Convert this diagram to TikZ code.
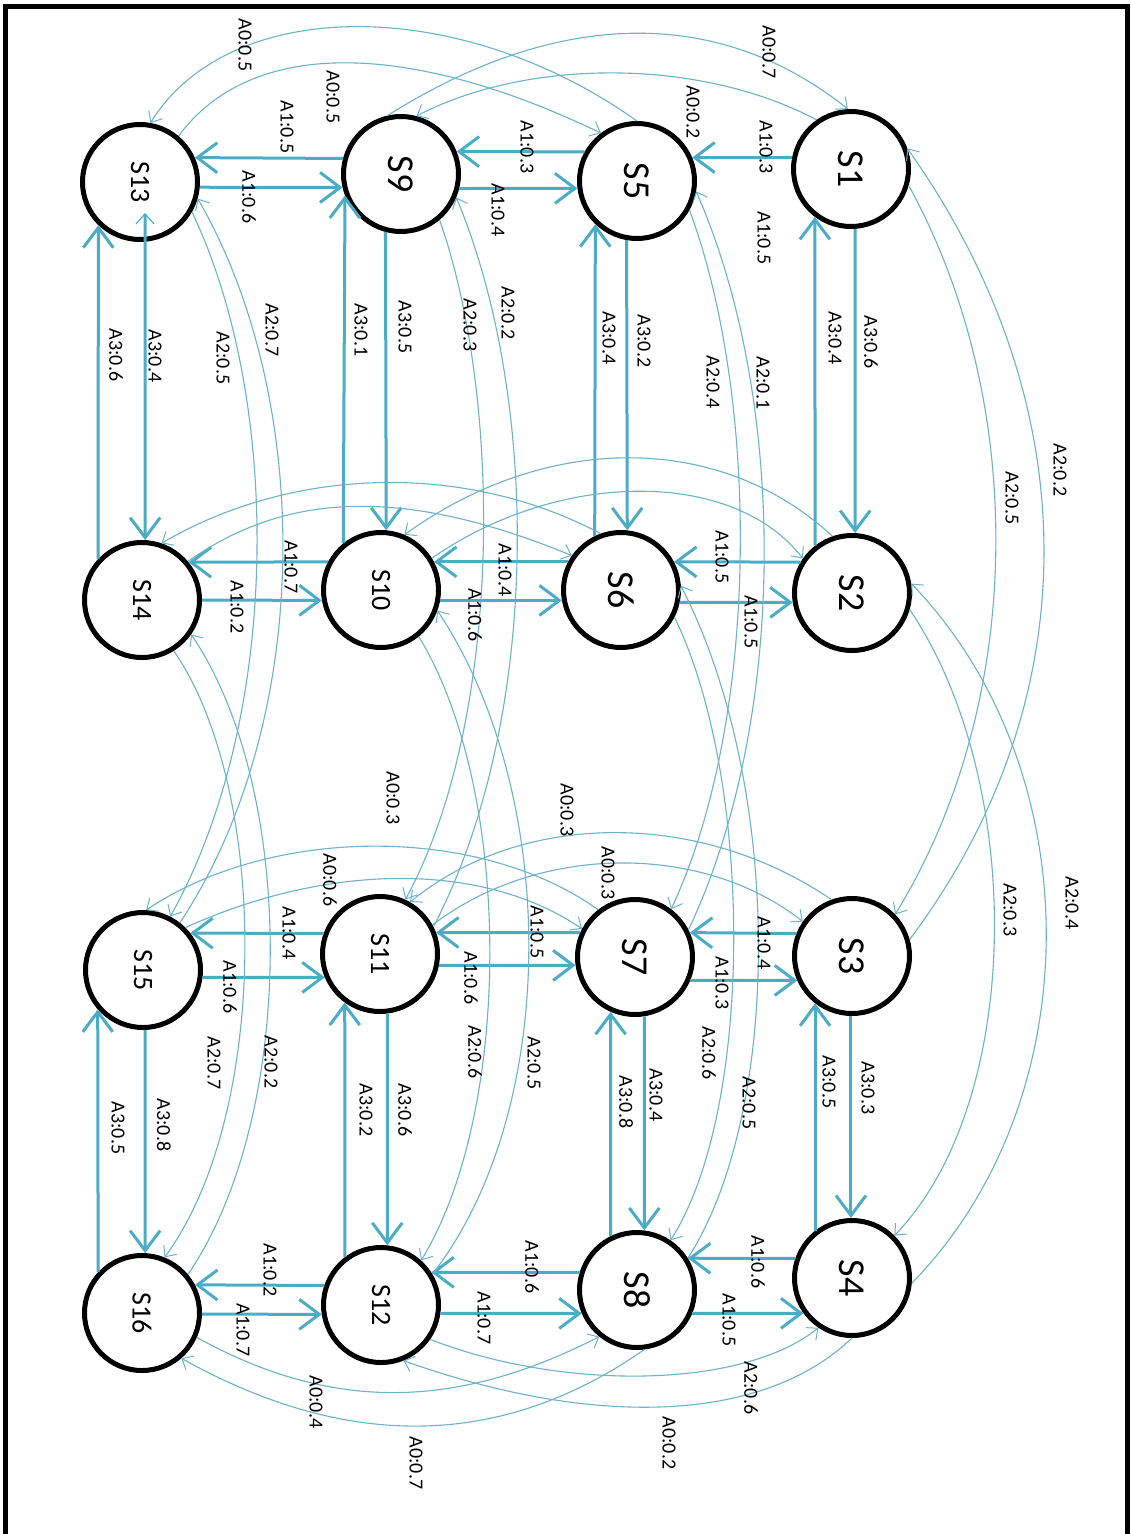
\documentclass[tikz,border=0pt]{standalone}
\usepackage{fontspec}
\usepackage{graphicx}
\setmainfont{Carlito}
\usetikzlibrary{arrows.meta}
\definecolor{edgeblue}{RGB}{75,172,198}
\definecolor{curveblue}{RGB}{108,178,200}

\begin{document}
\begin{tikzpicture}[x=1pt,y=-1pt,
  state/.style={circle, draw=black, line width=5pt, fill=white, minimum size=115pt, inner sep=0pt},
  bigname/.style={font=\fontsize{38}{38}\selectfont},
  smallname/.style={font=\fontsize{28}{28}\selectfont},
  lab/.style={font=\fontsize{20}{20}\selectfont, rotate=-90, inner sep=0pt},
  mv/.style={draw=edgeblue, line width=3pt, -{Straight Barb[length=20pt,width=30pt]}},
  jump/.style={draw=curveblue, line width=1.1pt, -{Straight Barb[length=9pt,width=16pt,line width=1pt]}},
]
\useasboundingbox (0,0) rectangle (1131,1534);
\clip (0,0) rectangle (1131,1534);
\fill[white] (0,0) rectangle (1131,1534);

% frame
\draw[line width=5pt] (5,1560) -- (5,6) -- (1127,6) -- (1127,1560);

% states
\node[state, smallname] (S13) at (140,182)  {\rotatebox{-90}{S13}};
\node[state, bigname]   (S9)  at (401,174)  {\rotatebox{-90}{S9}};
\node[state, bigname]   (S5)  at (637,181)  {\rotatebox{-90}{S5}};
\node[state, bigname]   (S1)  at (851,169)  {\rotatebox{-90}{S1}};
\node[state, smallname] (S14) at (142,600)  {\rotatebox{-90}{S14}};
\node[state, smallname] (S10) at (381,590)  {\rotatebox{-90}{S10}};
\node[state, bigname]   (S6)  at (621,590)  {\rotatebox{-90}{S6}};
\node[state, bigname]   (S2)  at (852,593)  {\rotatebox{-90}{S2}};
\node[state, smallname] (S15) at (143,970)  {\rotatebox{-90}{S15}};
\node[state, smallname] (S11) at (380,954)  {\rotatebox{-90}{S11}};
\node[state, bigname]   (S7)  at (635,957)  {\rotatebox{-90}{S7}};
\node[state, bigname]   (S3)  at (852,956)  {\rotatebox{-90}{S3}};
\node[state, smallname] (S16) at (142,1313) {\rotatebox{-90}{S16}};
\node[state, smallname] (S12) at (381,1305) {\rotatebox{-90}{S12}};
\node[state, bigname]   (S8)  at (637,1290) {\rotatebox{-90}{S8}};
\node[state, bigname]   (S4)  at (852,1278) {\rotatebox{-90}{S4}};

% A1 moves along the rows
\draw[mv] (S9.165) -- (S13.24);
\draw[mv] (S13.-5) -- (S9.193);
\draw[mv] (S5.151) -- (S9.22);
\draw[mv] (S9.-14) -- (S5.187);
\draw[mv] (S1.169) -- (S5.23);

\draw[mv] (S10.152) -- (S14.39);
\draw[mv] (S14.0) -- (S10.190);
\draw[mv] (S6.152) -- (S10.28);
\draw[mv] (S10.-10) -- (S6.190);
\draw[mv] (S2.149) -- (S6.28);
\draw[mv] (S6.-12) -- (S2.189);

\draw[mv] (S11.160) -- (S15.38);
\draw[mv] (S15.-7) -- (S11.203);
\draw[mv] (S7.156) -- (S11.21);
\draw[mv] (S11.-11) -- (S7.188);
\draw[mv] (S3.158) -- (S7.24);
\draw[mv] (S7.-23) -- (S3.204);

\draw[mv] (S12.161) -- (S16.28);
\draw[mv] (S16.-1) -- (S12.189);
\draw[mv] (S8.163) -- (S12.33);
\draw[mv] (S12.-8) -- (S8.203);
\draw[mv] (S4.161) -- (S8.32);
\draw[mv] (S8.-23) -- (S4.216);

% A3 moves along the columns
\coordinate (t13) at (145,213);
\draw[mv] (S14.137) -- (S13.-134);
\draw[mv, {Straight Barb[length=10pt,width=18pt,line width=1.2pt]}-{Straight Barb[length=20pt,width=30pt]}] (t13) -- (S14.87);
\draw[mv] (S10.129) -- (S9.-159);
\draw[mv] (S9.-105) -- (S10.85);
\draw[mv] (S6.116) -- (S5.-134);
\draw[mv] (S5.-100) -- (S6.84);
\draw[mv] (S2.128) -- (S1.-127);
\draw[mv] (S1.-86) -- (S2.87);

\draw[mv] (S16.137) -- (S15.-139);
\draw[mv] (S15.-88) -- (S16.87);
\draw[mv] (S12.127) -- (S11.-126);
\draw[mv] (S11.-83) -- (S12.84);
\draw[mv] (S8.116) -- (S7.-114);
\draw[mv] (S7.-81) -- (S8.83);
\draw[mv] (S4.128) -- (S3.-128);
\draw[mv] (S3.-91) -- (S4.91);

% A0 jumps over two columns
\draw[jump] (S5.90) .. controls (460,-5) and (230,-5) .. (S13.80);
\draw[jump] (S13.50) .. controls (250,39) and (405,39) .. (S5.127);
\draw[jump] (S9.103) .. controls (560,7) and (720,7) .. (S1.93);
\draw[jump] (S1.125) .. controls (700,58) and (528,58) .. (S9.75);

\draw[jump] (S6.110) .. controls (470,464) and (297,464) .. (S14.71);
\draw[jump] (S14.40) .. controls (290,489) and (410,489) .. (S6.145);
\draw[jump] (S2.109) .. controls (720,432) and (547,432) .. (S10.67);
\draw[jump] (S10.32) .. controls (560,469) and (734,469) .. (S2.145);

\draw[jump] (S7.128) .. controls (480,825) and (273,825) .. (S15.87);
\draw[jump] (S15.45) .. controls (330,862) and (484,862) .. (S7.152);
\draw[jump] (S3.110) .. controls (700,810) and (523,810) .. (S11.60);
\draw[jump] (S11.29) .. controls (540,843) and (703,843) .. (S3.145);

\draw[jump] (S16.-24) .. controls (330,1411) and (454,1411) .. (S8.-129);
\draw[jump] (S8.-83) .. controls (500,1450) and (346,1450) .. (S16.-49);
\draw[jump] (S12.-35) .. controls (560,1390) and (741,1390) .. (S4.-124);
\draw[jump] (S4.-90) .. controls (760,1426) and (587,1426) .. (S12.-68);

% A2 jumps over two rows
\draw[jump] (S1.-16) .. controls (1027,400) and (1027,700) .. (S3.44);
\draw[jump] (S3.16) .. controls (1089,700) and (1089,405) .. (S1.20);
\draw[jump] (S2.-16) .. controls (1025,780) and (1025,1100) .. (S4.45);
\draw[jump] (S4.-5) .. controls (1091,1100) and (1091,770) .. (S2.9);

\draw[jump] (S5.-29) .. controls (760,400) and (760,720) .. (S7.53);
\draw[jump] (S7.27) .. controls (788,720) and (788,400) .. (S5.-10);
\draw[jump] (S6.-27) .. controls (754,780) and (754,1110) .. (S8.56);
\draw[jump] (S8.32) .. controls (783,1110) and (783,784) .. (S6.4);

\draw[jump] (S9.-50) .. controls (503,400) and (503,720) .. (S11.65);
\draw[jump] (S11.27) .. controls (541,720) and (541,400) .. (S9.-23);
\draw[jump] (S10.-51) .. controls (513,790) and (513,1110) .. (S12.48);
\draw[jump] (S12.31) .. controls (560,1110) and (560,795) .. (S10.-20);

\draw[jump] (S13.-30) .. controls (282,400) and (282,717) .. (S15.63);
\draw[jump] (S15.52) .. controls (314,720) and (314,400) .. (S13.-16);
\draw[jump] (S14.-58) .. controls (270,790) and (270,1115) .. (S16.68);
\draw[jump] (S16.40) .. controls (297,1115) and (297,790) .. (S14.-35);

% labels: A0
\node[lab] (lA) at (245,45)   {A0:0.5};
\node[lab] (lB) at (333,97)   {A0:0.5};
\node[lab] (lC) at (769,52)   {A0:0.7};
\node[lab] (lD) at (693,112)  {A0:0.2};
\node[lab] (lE) at (393,798)  {A0:0.3};
\node[lab] (lF) at (567,810)  {A0:0.3};
\node[lab] (lG) at (330,880)  {A0:0.6};
\node[lab] (lH) at (608,873)  {A0:0.3};
\node[lab] (lI) at (316,1402) {A0:0.4};
\node[lab] (lJ) at (416,1463) {A0:0.7};
\node[lab] (lK) at (669,1443) {A0:0.2};

% labels: A1
\node[lab] (m1)  at (287,127)  {A1:0.5};
\node[lab] (m2)  at (249,197)  {A1:0.6};
\node[lab] (m3)  at (527,147)  {A1:0.3};
\node[lab] (m4)  at (498,210)  {A1:0.4};
\node[lab] (m5)  at (766,147)  {A1:0.3};
\node[lab] (m6)  at (764,238)  {A1:0.5};
\node[lab] (m7)  at (291,567)  {A1:0.7};
\node[lab] (m8)  at (237,607)  {A1:0.2};
\node[lab] (m9)  at (505,570)  {A1:0.4};
\node[lab] (m10) at (475,615)  {A1:0.6};
\node[lab] (m11) at (722,557)  {A1:0.5};
\node[lab] (m12) at (751,622)  {A1:0.5};
\node[lab] (m13) at (289,933)  {A1:0.4};
\node[lab] (m14) at (230,987)  {A1:0.6};
\node[lab] (m15) at (537,932)  {A1:0.5};
\node[lab] (m16) at (471,978)  {A1:0.6};
\node[lab] (m17) at (764,943)  {A1:0.4};
\node[lab] (m18) at (722,983)  {A1:0.3};
\node[lab] (m19) at (270,1270) {A1:0.2};
\node[lab] (m20) at (243,1330) {A1:0.7};
\node[lab] (m21) at (532,1267) {A1:0.6};
\node[lab] (m22) at (484,1318) {A1:0.7};
\node[lab] (m23) at (758,1262) {A1:0.6};
\node[lab] (m24) at (729,1320) {A1:0.5};

% labels: A2
\node[lab] (n1)  at (272,330)  {A2:0.7};
\node[lab] (n2)  at (223,358)  {A2:0.5};
\node[lab] (n3)  at (470,325)  {A2:0.3};
\node[lab] (n4)  at (508,313)  {A2:0.2};
\node[lab] (n5)  at (713,382)  {A2:0.4};
\node[lab] (n6)  at (763,383)  {A2:0.1};
\node[lab] (n7)  at (1012,498) {A2:0.5};
\node[lab] (n8)  at (1060,470) {A2:0.2};
\node[lab] (n9)  at (214,1063) {A2:0.7};
\node[lab] (n10) at (271,1062) {A2:0.2};
\node[lab] (n11) at (475,1052) {A2:0.6};
\node[lab] (n12) at (534,1063) {A2:0.5};
\node[lab] (n13) at (709,1053) {A2:0.6};
\node[lab] (n14) at (749,1103) {A2:0.5};
\node[lab] (n15) at (1010,910) {A2:0.3};
\node[lab] (n16) at (1072,903) {A2:0.4};
\node[lab] (n17) at (751,1388) {A2:0.6};

% labels: A3
\node[lab] (p1)  at (116,355)  {A3:0.6};
\node[lab] (p2)  at (155,356)  {A3:0.4};
\node[lab] (p3)  at (361,330)  {A3:0.1};
\node[lab] (p4)  at (405,327)  {A3:0.5};
\node[lab] (p5)  at (609,338)  {A3:0.4};
\node[lab] (p6)  at (644,341)  {A3:0.2};
\node[lab] (p7)  at (835,338)  {A3:0.4};
\node[lab] (p8)  at (871,342)  {A3:0.6};
\node[lab] (p9)  at (118,1128) {A3:0.5};
\node[lab] (p10) at (164,1125) {A3:0.8};
\node[lab] (p11) at (366,1110) {A3:0.2};
\node[lab] (p12) at (405,1110) {A3:0.6};
\node[lab] (p13) at (626,1102) {A3:0.8};
\node[lab] (p14) at (656,1095) {A3:0.4};
\node[lab] (p15) at (829,1082) {A3:0.5};
\node[lab] (p16) at (868,1088) {A3:0.3};
\end{tikzpicture}
\end{document}
